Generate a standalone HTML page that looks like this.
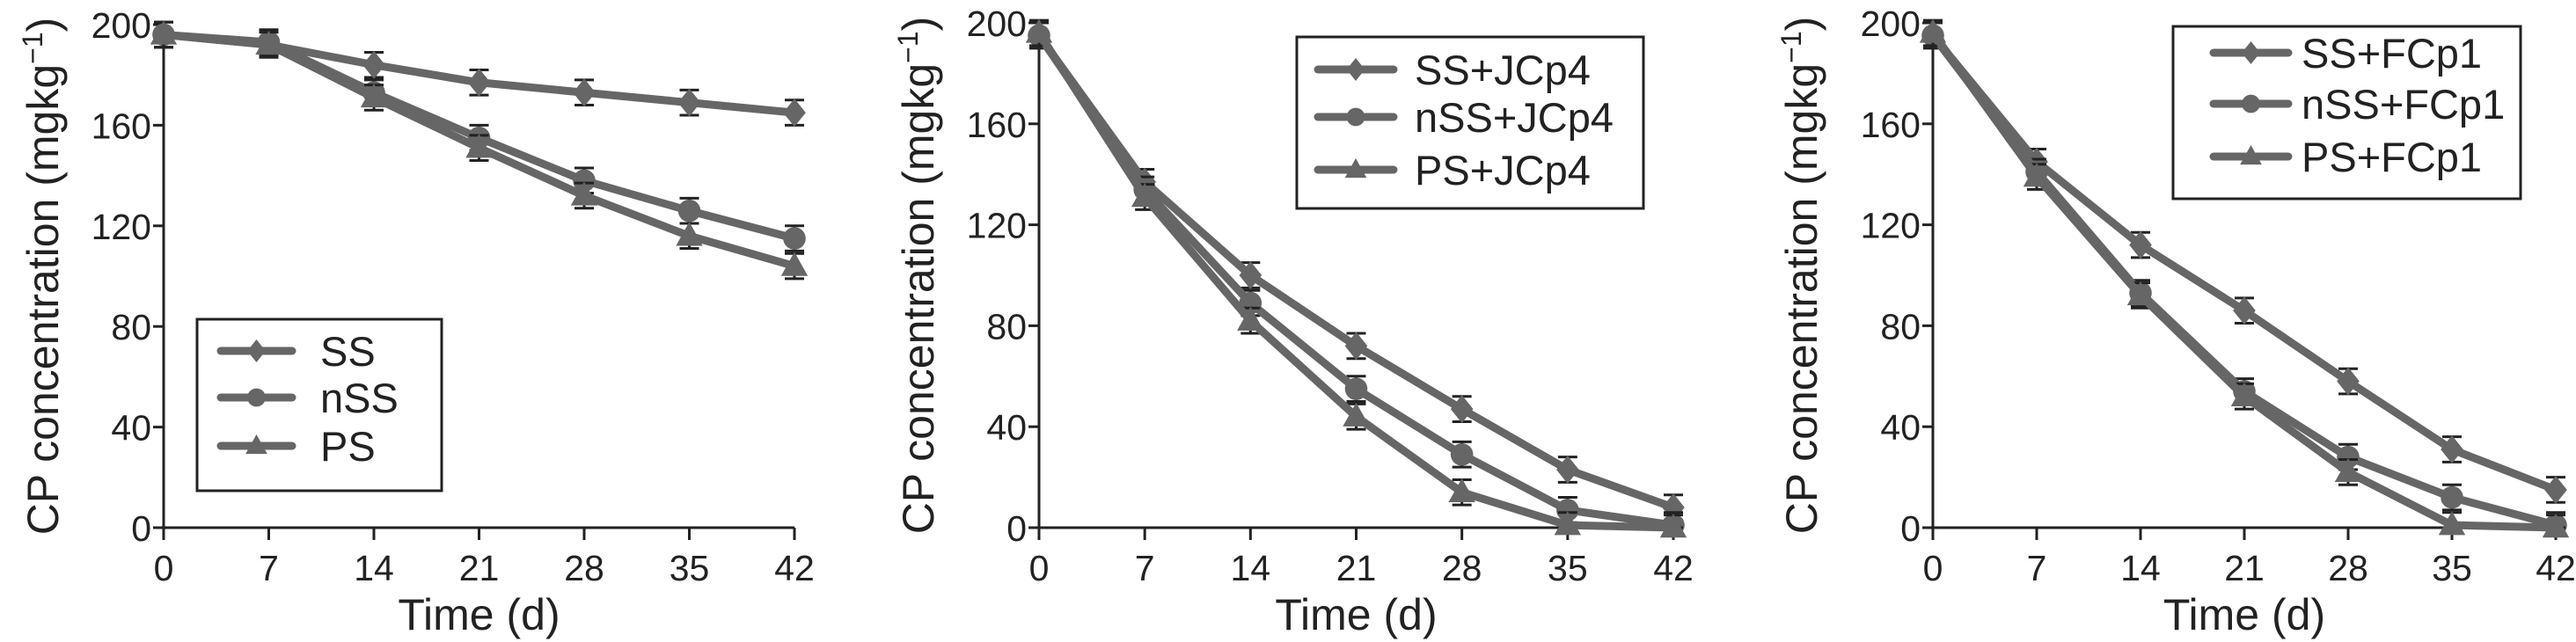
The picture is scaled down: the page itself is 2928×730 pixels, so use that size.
<!DOCTYPE html>
<html><head><meta charset="utf-8"><style>
body{margin:0;background:#fff;width:2928px;height:730px;overflow:hidden}
svg{display:block}
text{font-family:"Liberation Sans",sans-serif;fill:#222}
</style></head><body>
<svg id="fig" width="2928" height="730" viewBox="0 0 2928 730"></svg>
<script>
const days=[0,7,14,21,28,35,42];
const yTicks=[0,40,80,120,160,200];
const p1Names=["SS","nSS","PS"];
const p1SS=[196,192,184,177,173,169,165];
const p1nSS=[196,193,173,155,138,126,115];
const p1PS=[196,192,171,151,132,116,104];
const p2Names=["SS+JCp4","nSS+JCp4","PS+JCp4"];
const p2SS=[195,137,100,72,47,23,8];
const p2nSS=[195,134,89,55,29,7,1];
const p2PS=[196,131,82,44,14,1,0];
const p3Names=["SS+FCp1","nSS+FCp1","PS+FCp1"];
const p3SS=[195,145,112,86,58,31,15];
const p3nSS=[195,141,93,54,28,12,1];
const p3PS=[196,139,92,52,22,1,0];
const errAll=[5,5,5,5,5,5,5];
const markers=["diamond","circle","triangle"];
const NS="http://www.w3.org/2000/svg";
const svg=document.getElementById('fig');
function mk(t,a,p){const e=document.createElementNS(NS,t);for(const k in a)e.setAttribute(k,a[k]);(p||svg).appendChild(e);return e;}
function marker(g,type,x,y,s){
 let e;
 if(type==="diamond")e=mk('polygon',{points:`${x},${y-s} ${x+s*0.8},${y} ${x},${y+s} ${x-s*0.8},${y}`,fill:'#666'},g);
 else if(type==="circle")e=mk('circle',{cx:x,cy:y,r:s*0.8,fill:'#666'},g);
 else e=mk('polygon',{points:`${x},${y-s} ${x+s*0.95},${y+s*0.7} ${x-s*0.95},${y+s*0.7}`,fill:'#666'},g);
 return e;
}
const panels=[
 {x0:186,x1:903,y0:600,y1:28,names:p1Names,series:[p1SS,p1nSS,p1PS],ytx:48,leg:{x:224,y:363,w:278,h:195,rows:[399,452,507],lx1:251,lx2:332,tx:364}},
 {x0:1181,x1:1902,y0:600,y1:26,names:p2Names,series:[p2SS,p2nSS,p2PS],ytx:1043,leg:{x:1474,y:42,w:394,h:195,rows:[79,133,193],lx1:1498,lx2:1584,tx:1608}},
 {x0:2197,x1:2905,y0:600,y1:26,names:p3Names,series:[p3SS,p3nSS,p3PS],ytx:2047,leg:{x:2470,y:30,w:395,h:196,rows:[60,118,178],lx1:2516,lx2:2601,tx:2616}}
];
panels.forEach((P,pi)=>{
 const g=mk('g',{});
 
 
 const sx=v=>P.x0+(P.x1-P.x0)*v/42;
 const sy=v=>P.y0+(P.y1-P.y0)*v/200;
 const ax=mk('path',{d:`M${P.x0},${sy(200)-4}V${P.y0}H${P.x1}`,stroke:'#222','stroke-width':3,fill:'none'},g);
 
 
 yTicks.forEach(v=>{
  mk('line',{x1:P.x0-12,x2:P.x0,y1:sy(v),y2:sy(v),stroke:'#222','stroke-width':3},g);
  const t=mk('text',{x:P.x0-14,y:sy(v)+15,'font-size':41,'text-anchor':'end'},g);
  t.textContent=v;
  
  
 });
 days.forEach(d=>{
  mk('line',{x1:sx(d),x2:sx(d),y1:P.y0,y2:P.y0+14,stroke:'#222','stroke-width':3},g);
  const t=mk('text',{x:sx(d),y:P.y0+60,'font-size':41,'text-anchor':'middle'},g);
  t.textContent=d;
  
  
 });
 const xt=mk('text',{x:(P.x0+P.x1)/2,y:716,'font-size':50,'text-anchor':'middle'},g);
 xt.textContent='Time (d)';
 
 
 const yt=mk('text',{x:0,y:0,'font-size':50,'text-anchor':'middle',transform:`translate(${P.ytx+18},${(P.y0+P.y1)/2}) rotate(-90)`},g);
 yt.innerHTML='CP concentration (mgkg<tspan dy="-18" font-size="32">−1</tspan><tspan dy="18">)</tspan>';
 
 
 P.series.forEach((vals,si)=>{
  const sg=mk('g',{},g);
  
  
  vals.forEach((v,i)=>{
   const x=sx(days[i]),e=errAll[i];
   mk('path',{d:`M${x},${sy(v+e)}V${sy(Math.max(v-e,0))}M${x-11},${sy(v+e)}H${x+11}M${x-11},${sy(Math.max(v-e,0))}H${x+11}`,stroke:'#222','stroke-width':3,fill:'none'},sg);
  });
  const ln=mk('polyline',{points:vals.map((v,i)=>sx(days[i])+','+sy(v)).join(' '),stroke:'#666','stroke-width':9,fill:'none','stroke-linejoin':'round'},sg);
  
  
  vals.forEach((v,i)=>{
   const m=marker(sg,markers[si],sx(days[i]),sy(v),16);
   
   
  });
 });
 const L=P.leg;
 const lg=mk('g',{},g);
 
 
 mk('rect',{x:L.x,y:L.y,width:L.w,height:L.h,fill:'#fff',stroke:'#222','stroke-width':3},lg);
 L.rows.forEach((ry,i)=>{
  const eg=mk('g',{},lg);
  
  
  mk('line',{x1:L.lx1,x2:L.lx2,y1:ry,y2:ry,stroke:'#666','stroke-width':9,'stroke-linecap':'round'},eg);
  marker(eg,markers[i],(L.lx1+L.lx2)/2,ry,13);
  const t=mk('text',{x:L.tx,y:ry+17,'font-size':47},eg);
  t.textContent=P.names[i];
 });
});
</script>
</body></html>
